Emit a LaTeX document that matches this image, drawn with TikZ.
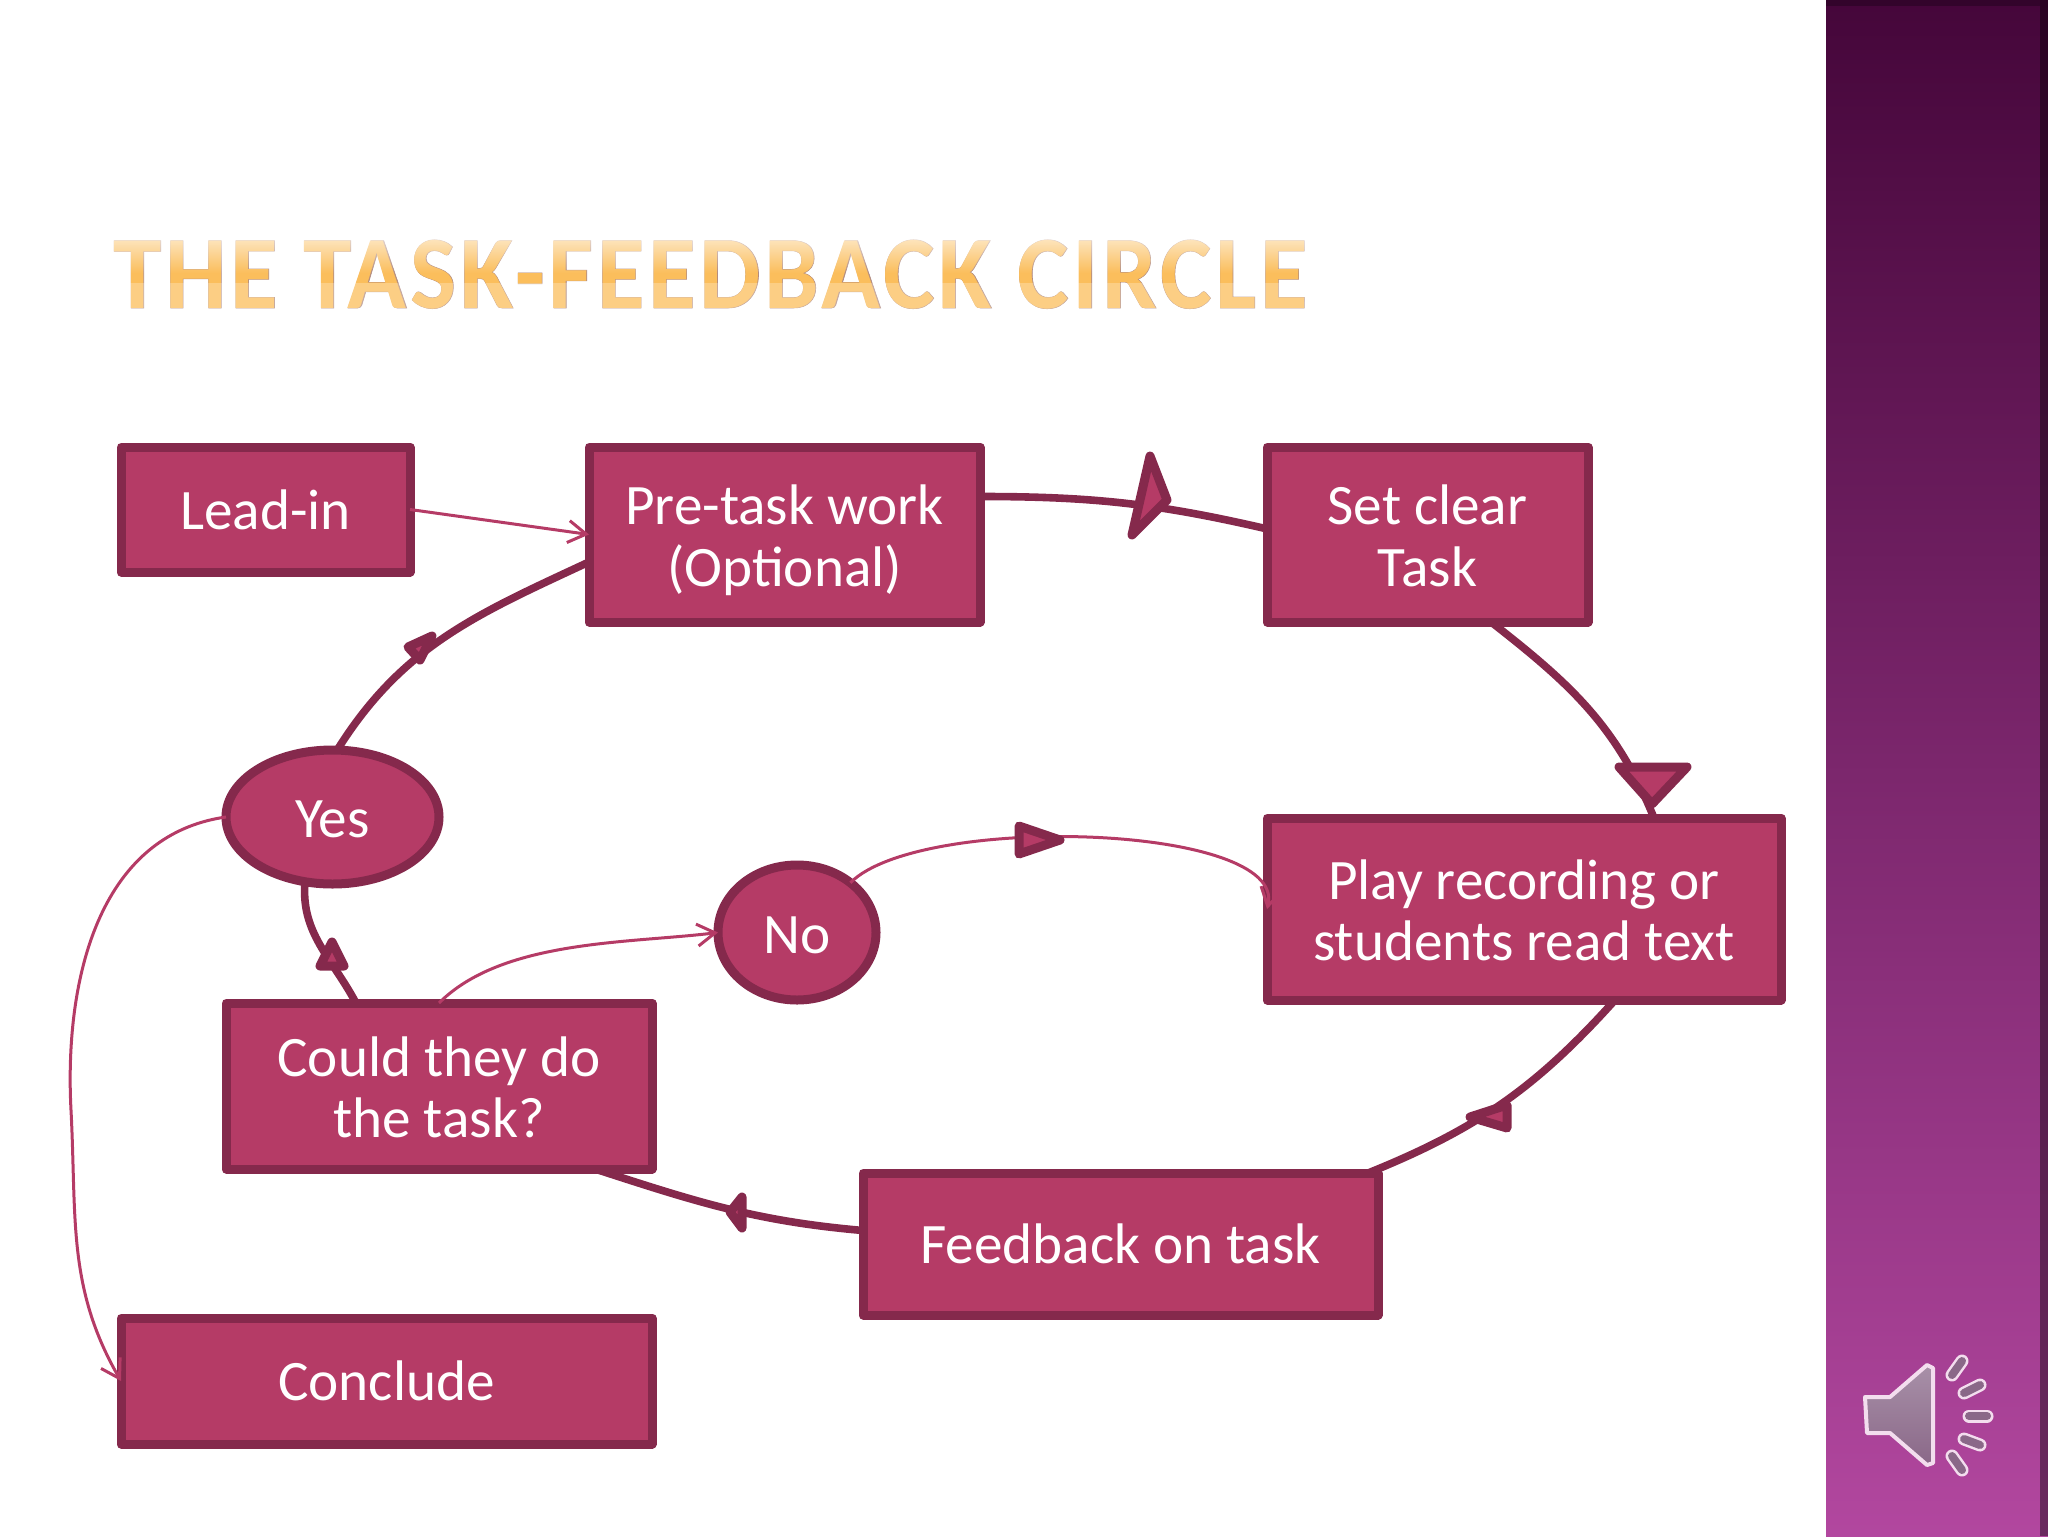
\documentclass[tikz,border=0pt]{standalone}
\usepackage{fontspec}
\usepackage{xcolor}
\usetikzlibrary{shapes.geometric,arrows.meta,fadings}
\setmainfont{Carlito}
\newfontfamily\titlefont[FakeStretch=0.935,LetterSpace=3.6]{Carlito Bold}
\newfontfamily\titleline[FakeStretch=0.935,LetterSpace=3.6,FakeBold=0.6]{Carlito Bold}
\newcommand{\firstrow}{\rule{0pt}{27pt}}
\newcommand{\lastrow}{\rule[-6pt]{0pt}{6pt}}
\newcommand{\ovalrow}{\rule{0pt}{21pt}}
\definecolor{taskfill}{HTML}{B53B66}
\definecolor{taskedge}{HTML}{85294C}
\definecolor{titlegold}{HTML}{FBBE5C}
\definecolor{titleedge}{HTML}{B08A80}
\definecolor{bandtop}{HTML}{45063A}
\definecolor{bandmid}{HTML}{84307A}
\definecolor{bandbottom}{HTML}{B2479F}
\definecolor{speakertop}{HTML}{A890A8}
\definecolor{speakerbottom}{HTML}{8A6888}
\definecolor{speakeredge}{HTML}{F3DDEE}
\tikzfading[name=titlegloss,top color=transparent!35,bottom color=transparent!100]
\tikzset{
	taskbox/.style={rectangle,draw=taskedge,fill=taskfill,line width=4.5pt,line join=round,outer sep=0pt,text=white,align=center,font=\fontsize{28.6}{30.7}\selectfont},
	decision/.style={ellipse,draw=taskedge,fill=taskfill,line width=4.5pt,outer sep=0pt,inner sep=0pt,text=white,align=center,font=\fontsize{28.6}{30.7}\selectfont},
	mainarc/.style={draw=taskedge,line width=3.8pt},
	sidearrow/.style={draw=taskfill,line width=1.5pt,-{Straight Barb[length=9pt,width=11pt]}},
	midtri/.style={draw=taskedge,fill=taskfill,line width=4.5pt,line join=round},
	soundray/.style={line cap=round,line width=6.5pt,color=speakeredge},
	soundcore/.style={line cap=round,line width=4pt,color=speakerbottom}
}
\begin{document}
\begin{tikzpicture}[x=0.5pt,y=-0.5pt]
	\useasboundingbox (0,0) rectangle (2048,1536);
	% side band
	\shade[top color=bandtop,middle color=bandmid,bottom color=bandbottom] (1826,0) rectangle (2048,1536);
	\fill[black,opacity=0.4] (2040,0) rectangle (2048,1536);
	\fill[black,opacity=0.25] (1826,0) rectangle (2040,6);
	% title
	\node[anchor=base west,inner sep=0pt,text=titleedge,font=\titleline\fontsize{52}{60}\selectfont] (titleback) at (113,308) {THE TASK-FEEDBACK CIRCLE};
	\node[anchor=base west,inner sep=0pt,text=titlegold,font=\titlefont\fontsize{52}{60}\selectfont] (title) at (113,308) {THE TASK-FEEDBACK CIRCLE};
	\fill[white,path fading=titlegloss] (100,236) rectangle (1320,273);
	\fill[white,opacity=0.25] (100,283) rectangle (1320,314);
	% boxes
	\node[taskbox,minimum width=144.5pt,minimum height=62.5pt] (leadin) at (265.5,509.5) {Lead-in};
	\node[taskbox,minimum width=195.5pt,minimum height=87.5pt] (pretask) at (784.5,534.5) {\firstrow Pre-task work\\\lastrow (Optional)};
	\node[taskbox,minimum width=160.5pt,minimum height=87.5pt] (setclear) at (1427.5,534.5) {\firstrow Set clear\\\lastrow Task};
	\node[taskbox,minimum width=257pt,minimum height=91pt] (play) at (1524,909) {\firstrow Play recording or\\\lastrow students read text};
	\node[taskbox,minimum width=257.5pt,minimum height=71pt] (feedback) at (1120.5,1244) {Feedback on task};
	\node[taskbox,minimum width=213pt,minimum height=83pt] (could) at (439,1086) {\firstrow Could they do\\\lastrow the task?};
	\node[taskbox,minimum width=265.5pt,minimum height=63pt] (conclude) at (386.5,1381) {Conclude};
	\node[decision,minimum width=106.5pt,minimum height=67pt] (yes) at (332.5,817) {\ovalrow Yes};
	\node[decision,minimum width=79pt,minimum height=67.5pt] (no) at (797,932.5) {\ovalrow No};
	\coordinate (leftbend) at (71,1110);
	% main circle
	\draw[mainarc] (pretask.11) to[out=0,in=167] (setclear.178);
	\draw[mainarc] (setclear.-54) to[out=-38,in=112] (play.35);
	\draw[mainarc] (play.-45) to[out=-132,in=22] (feedback.16.5);
	\draw[mainarc] (feedback.177) to[out=175,in=-18] (could.-28);
	\draw[mainarc] (could.135) to[out=118,in=-95] (yes.-113);
	\draw[mainarc] (yes.86) to[out=58,in=205] (pretask.188);
	% thin arrows
	\draw[sidearrow] (leadin.east) -- (pretask.west);
	\draw[sidearrow] (could.90) to[out=45,in=187,looseness=0.8] (no.west);
	\draw[sidearrow] (no.43) .. controls +(70,-70) and +(20,-85) .. (play.west);
	\draw[sidearrow] (yes.west) to[out=188,in=93] (leftbend) to[out=-87,in=120] (conclude.west);
	% triangles on the circle
	\draw[midtri] (1150,456) -- (1167,500) -- (1132,535) -- cycle;
	\draw[midtri] (1619,767) -- (1687,767) -- (1652,804) -- cycle;
	\draw[midtri] (1470,1117) -- (1507,1105) -- (1507,1128) -- cycle;
	\draw[midtri] (730,1212) -- (742,1197) -- (742,1228) -- cycle;
	\draw[midtri] (332,942) -- (320,966) -- (344,966) -- cycle;
	\draw[midtri] (432,636) -- (408,647) -- (420,660) -- cycle;
	\draw[midtri] (1019,826) -- (1060,840) -- (1019,854) -- cycle;
	% speaker
	\shade[top color=speakertop,bottom color=speakerbottom,draw=speakeredge,line width=2pt,line join=round] (1865,1397) -- (1890,1397) -- (1927,1365) -- (1933,1368) -- (1933,1463) -- (1927,1465) -- (1890,1433) -- (1867,1433) -- cycle;
	\draw[soundray] (1952,1375) -- (1962,1361);
	\draw[soundray] (1964,1393) -- (1980,1385);
	\draw[soundray] (1969,1416) -- (1987,1416);
	\draw[soundray] (1964,1439) -- (1980,1445);
	\draw[soundray] (1952,1456) -- (1962,1470);
	\draw[soundcore] (1952,1375) -- (1962,1361);
	\draw[soundcore] (1964,1393) -- (1980,1385);
	\draw[soundcore] (1969,1416) -- (1987,1416);
	\draw[soundcore] (1964,1439) -- (1980,1445);
	\draw[soundcore] (1952,1456) -- (1962,1470);
\end{tikzpicture}
\end{document}
